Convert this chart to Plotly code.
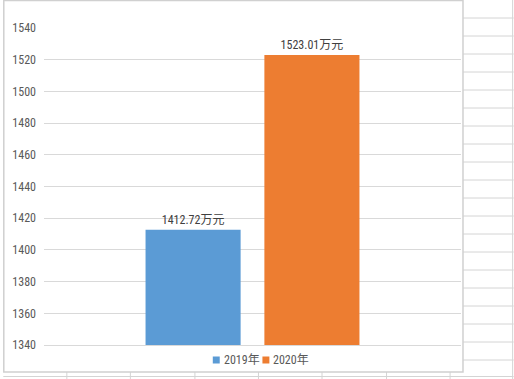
import plotly.graph_objects as go

# ---- data ----
categories = ["营业收入"]
series_names = ["2019年", "2020年"]
values_2019 = [1412.72]
values_2020 = [1523.01]
colors = ["#5B9BD5", "#ED7D31"]
y_ticks = [1340, 1360, 1380, 1400, 1420, 1440, 1460, 1480, 1500, 1520, 1540]

W, H = 514, 379
L, R, T, B = 41, 53, 28, 34
PW, PH = W - L - R, H - T - B

def px_x(p):
    return (p - L) / PW

def px_y(p):
    return (H - B - p) / PH

FONT = "Roboto Condensed, Noto Sans CJK SC, sans-serif"

fig = go.Figure()
for name, vals, col in zip(series_names, [values_2019, values_2020], colors):
    fig.add_trace(go.Bar(
        name=name, x=categories, y=vals, marker=dict(color=col, line=dict(width=0)),
        texttemplate="%{y:.2f}万元", textposition="outside", cliponaxis=False,
        textfont=dict(color="#404040", size=12, family=FONT),
        showlegend=False,
    ))

shapes = []
annotations = []
grid_col = "#D4D4D4"
# spreadsheet cells to the right of the chart
for k in range(1, 21):
    yy = 18 * k
    shapes.append(dict(type="line", xref="paper", yref="paper",
                       x0=px_x(463), x1=px_x(514), y0=px_y(yy), y1=px_y(yy),
                       line=dict(color=grid_col, width=1)))
shapes.append(dict(type="line", xref="paper", yref="paper",
                   x0=px_x(513), x1=px_x(513), y0=px_y(0), y1=px_y(379),
                   line=dict(color=grid_col, width=1)))
# spreadsheet cells below the chart
shapes.append(dict(type="line", xref="paper", yref="paper",
                   x0=px_x(0), x1=px_x(514), y0=px_y(376.5), y1=px_y(376.5),
                   line=dict(color=grid_col, width=1)))
for xx in [64, 128, 193, 257, 321, 386, 450]:
    shapes.append(dict(type="line", xref="paper", yref="paper",
                       x0=px_x(xx), x1=px_x(xx), y0=px_y(372), y1=px_y(379),
                       line=dict(color=grid_col, width=1)))
# chart border
shapes.append(dict(type="rect", xref="paper", yref="paper",
                   x0=px_x(0.5), x1=px_x(463), y0=px_y(0.5), y1=px_y(372),
                   line=dict(color="#D0D0D0", width=1.5), fillcolor="rgba(0,0,0,0)"))

# legend (Excel style: small square + text)
legend_x = [211, 261]
for name, col, lx in zip(series_names, colors, legend_x):
    shapes.append(dict(type="rect", xref="paper", yref="paper",
                       x0=px_x(lx), x1=px_x(lx + 7), y0=px_y(356.5), y1=px_y(363.5),
                       line=dict(width=0), fillcolor=col))
    annotations.append(dict(text=name, xref="paper", yref="paper",
                            x=px_x(lx + 9), y=px_y(360), xanchor="left", yanchor="middle",
                            showarrow=False, font=dict(size=12, color="#595959", family=FONT)))

fig.update_layout(
    width=W, height=H,
    margin=dict(l=L, r=R, t=T, b=B, pad=0),
    paper_bgcolor="white", plot_bgcolor="white",
    barmode="group", bargap=0.43, bargroupgap=0.2,
    font=dict(family=FONT, size=12, color="#595959"),
    showlegend=False,
    xaxis=dict(showticklabels=False, showgrid=False, zeroline=False,
               showline=True, linecolor="#D9D9D9", linewidth=1, ticks=""),
    yaxis=dict(range=[1340, 1540], tickvals=y_ticks, showgrid=True, gridcolor="#D9D9D9",
               gridwidth=1, zeroline=False, showline=False, ticks="",
               tickfont=dict(size=12, color="#595959", family=FONT),
               ticklabelstandoff=7),
    shapes=shapes,
    annotations=annotations,
)

fig.write_html("out.html")
